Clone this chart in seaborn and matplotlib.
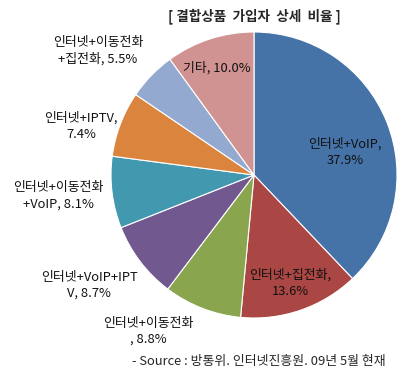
import numpy as np
import pandas as pd
import seaborn as sns
import matplotlib.pyplot as plt

# data (clockwise from 12 o'clock)
products = ["인터넷+VoIP", "인터넷+집전화", "인터넷+이동전화", "인터넷+VoIP+IPTV",
            "인터넷+이동전화+VoIP", "인터넷+IPTV", "인터넷+이동전화+집전화", "기타"]
shares = [37.9, 13.6, 8.8, 8.7, 8.1, 7.4, 5.5, 10.0]
label_text = ["인터넷+VoIP,\n37.9%", "인터넷+집전화,\n13.6%", "인터넷+이동전화\n, 8.8%",
              "인터넷+VoIP+IPT\nV, 8.7%", "인터넷+이동전화\n+VoIP, 8.1%", "인터넷+IPTV,\n7.4%",
              "인터넷+이동전화\n+집전화, 5.5%", "기타, 10.0%"]
colors = ["#4572A7", "#AA4643", "#89A54E", "#71588F", "#4198AF", "#DB843D", "#93A9CF", "#D19392"]

# label centres in pixels (layout only)
label_pos = [(345, 152), (290, 283), (148, 331), (89, 285), (58, 196), (81, 126), (98, 51), (217, 68)]

sns.set_theme(style="white")
plt.rcParams['font.family'] = ['Noto Sans CJK KR', 'DejaVu Sans']

df = pd.DataFrame({"product": products, "share": shares})

W, H = 407, 375
fig = plt.figure(figsize=(W / 100, H / 100), dpi=100)
cx, cy, r = 254, 175, 143
ax = fig.add_axes([(cx - r) / W, (H - cy - r) / H, 2 * r / W, 2 * r / H])
ax.pie(df["share"], colors=colors, startangle=90, counterclock=False,
       wedgeprops=dict(edgecolor="white", linewidth=0.8))
ax.set_xlim(-1, 1)
ax.set_ylim(-1, 1)
ax.set_aspect("equal")
ax.axis("off")

for txt, (px, py) in zip(label_text, label_pos):
    fig.text(px / W, 1 - py / H, txt, ha="center", va="center", fontsize=9.3,
             linespacing=1.3, color="#111111")

fig.text(254 / W, 1 - 16 / H, "[ 결합상품  가입자  상세  비율 ]", ha="center", va="center",
         fontsize=9.8, fontweight="bold")
fig.text(132 / W, 1 - 362 / H, "- Source : 방통위. 인터넷진흥원. 09년 5월 현재",
         ha="left", va="center", fontsize=9.3)

fig.savefig("out.png", dpi=100)
